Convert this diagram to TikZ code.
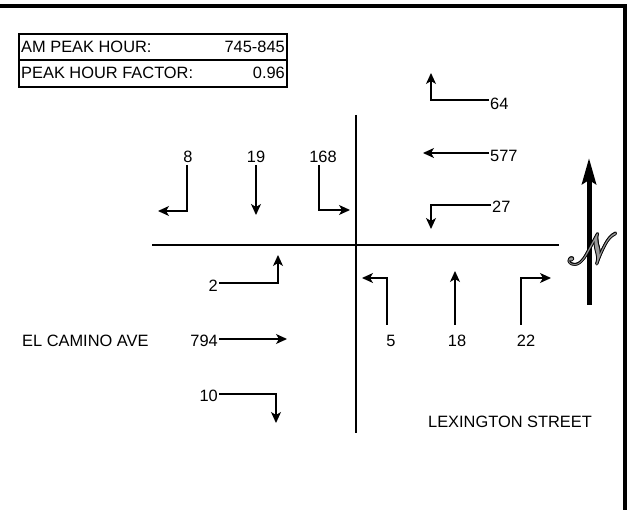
\documentclass[tikz,border=0pt]{standalone}
\usepackage{fontspec}
\setmainfont{Liberation Sans}
\usepackage{mathrsfs}
\usetikzlibrary{arrows.meta}
\newcommand{\Nsym}{{\fontsize{24.88}{26}\selectfont$\mathscr{N}$}}
\begin{document}
\begin{tikzpicture}[x=1pt,y=-1pt,
  mv/.style={line width=1.3pt,-{Stealth[length=11pt,width=10pt,inset=3pt]}},
  lbl/.style={inner sep=0pt,font=\fontsize{16.4}{19}\selectfont,text height=12pt,text depth=0pt},
  street/.style={line width=2.5pt},
  nsym/.style={inner sep=0pt,xscale=1.8,yscale=1.75,xslant=-0.18},
  ]
\useasboundingbox (0,0) rectangle (629,510);
\fill[white] (0,0) rectangle (629,510);
\draw[line width=4pt] (0,6) -- (625,6) -- (625,512);
% table
\draw[line width=2pt] (19,34) rectangle (287,87);
\draw[line width=2pt] (19,60) -- (287,60);
\node[lbl,anchor=west] (t1) at (21,47) {AM PEAK HOUR:};
\node[lbl,anchor=east] (t1v) at (285,47) {745-845};
\node[lbl,anchor=west] (t2) at (21,73) {PEAK HOUR FACTOR:};
\node[lbl,anchor=east] (t2v) at (285,73) {0.96};
% streets
\draw[street] (356,115) -- (356,433);
\draw[street] (152,245) -- (559,245);
% north leg
\node[lbl] (n8) at (188,157) {8};
\node[lbl] (n19) at (256,157) {19};
\node[lbl] (n168) at (323,157) {168};
\draw[mv] (187,165) |- (158,211);
\draw[mv] (256,165) -- (256,215);
\draw[mv] (319,165) |- (350,210);
% east leg
\node[lbl,anchor=west] (n64) at (490,104) {64};
\node[lbl,anchor=west] (n577) at (490,156) {577};
\node[lbl,anchor=west] (n27) at (492,207) {27};
\draw[mv] (489,100) -| (431,73);
\draw[mv] (489,153) -- (423,153);
\draw[mv] (491,205) -| (431,229);
% west leg
\node[lbl,anchor=east] (n2) at (218,286) {2};
\node[lbl,anchor=east] (n794) at (218,341) {794};
\node[lbl,anchor=east] (n10) at (218,395) {10};
\draw[mv] (219,283) -| (278,255);
\draw[mv] (219,339) -- (287,339);
\draw[mv] (219,394) -| (276,423);
% south leg
\node[lbl] (n5) at (391,341) {5};
\node[lbl] (n18) at (457,341) {18};
\node[lbl] (n22) at (526,341) {22};
\draw[mv] (387,325) |- (362,278);
\draw[mv] (455,325) -- (455,271);
\draw[mv] (521,325) |- (551,278);
% street names
\node[lbl,anchor=west] (elc) at (22,341) {EL CAMINO AVE};
\node[lbl] (lex) at (510,421) {LEXINGTON STREET};
% north arrow
\draw[line width=5pt,-{Stealth[length=26pt,width=14pt,inset=4pt]}] (589,305) -- (589,158);
\foreach \dx/\dy in {-1/0,1/0,0/-1,0/1,-0.7/-0.7,0.7/0.7,-0.7/0.7,0.7/-0.7}
  \node[nsym,text=black] at (593+\dx,249+\dy) {\Nsym};
\node[nsym,text=gray!80] (north) at (593,249) {\Nsym};
\end{tikzpicture}
\end{document}
